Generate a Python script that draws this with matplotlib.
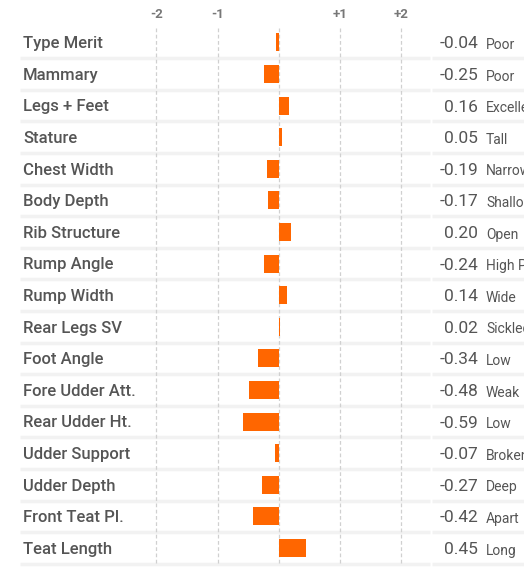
import matplotlib
matplotlib.use("Agg")
import matplotlib.pyplot as plt

# ------------------------------------------------------------------ data
traits = ["Type Merit", "Mammary", "Legs + Feet", "Stature", "Chest Width",
          "Body Depth", "Rib Structure", "Rump Angle", "Rump Width", "Rear Legs SV",
          "Foot Angle", "Fore Udder Att.", "Rear Udder Ht.", "Udder Support",
          "Udder Depth", "Front Teat Pl.", "Teat Length"]
values = [-0.04, -0.25, 0.16, 0.05, -0.19, -0.17, 0.20, -0.24, 0.14, 0.02,
          -0.34, -0.48, -0.59, -0.07, -0.27, -0.42, 0.45]
descriptors = ["Poor", "Poor", "Excellent", "Tall", "Narrow", "Shallow", "Open",
               "High Pins", "Wide", "Sickled", "Low", "Weak", "Low", "Broken",
               "Deep", "Apart", "Long"]
grid_ticks = [-2, -1, 0, 1, 2]
tick_labels = {-2: "-2", -1: "-1", 1: "+1", 2: "+2"}

FONT = ["Roboto", "DejaVu Sans"]
TXT = "#555555"
BAR = "#ff6600"

fig = plt.figure(figsize=(5.24, 5.69), dpi=100)
ax = fig.add_axes([0, 0, 1, 1])
# pixel-matched scale: zero at x=278.8 px, 61.2 px per unit; rows 31.6 px apart
ux, x0 = 61.2, 278.8
uy, y0 = 31.6, 42.4
ax.set_xlim(-x0 / ux, (524 - x0) / ux)
ax.set_ylim((569 - y0) / uy, -y0 / uy)
ax.axis("off")

n = len(traits)
rows = list(range(n))

# row separators
for i in range(n):
    yy = i + 0.5
    ax.plot([(20 - x0) / ux, (430 - x0) / ux], [yy, yy], color="#f2f2f2", lw=2.5,
            solid_capstyle="butt", zorder=1)
    ax.plot([(432 - x0) / ux, (524 - x0) / ux], [yy, yy], color="#f2f2f2", lw=2.5,
            solid_capstyle="butt", zorder=1)

# dashed grid
for t in grid_ticks:
    ax.plot([t, t], [-0.45, n - 0.45], color="#d0d0d0", lw=0.9, ls=(0, (3, 2)), zorder=2)
    if t in tick_labels:
        ax.text(t, -0.87, tick_labels[t], ha="center", va="center", fontsize=9.5,
                color="#777777", family=FONT, fontweight="bold")

ax.barh(rows, values, height=0.57, color=BAR, zorder=3)

for i in rows:
    ax.text((23 - x0) / ux, i + 0.04, traits[i], ha="left", va="center", fontsize=12,
            color=TXT, family=FONT, fontweight="medium")
    ax.text((478 - x0) / ux, i + 0.05, "%.2f" % values[i], ha="right", va="center",
            fontsize=12.5, color=TXT, family=FONT)
    ax.text((486 - x0) / ux, i + 0.08, descriptors[i], ha="left", va="center",
            fontsize=10, color=TXT, family=FONT, clip_on=True)

fig.savefig("out.png", dpi=100)
